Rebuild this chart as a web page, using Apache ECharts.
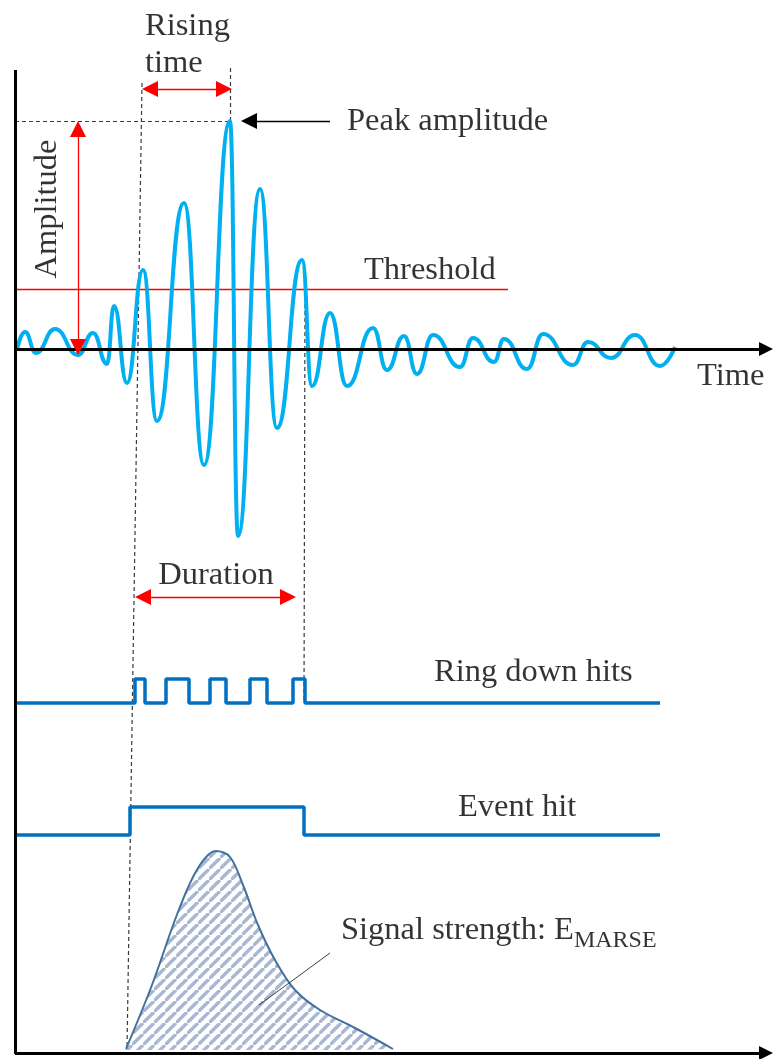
<!DOCTYPE html>
<html><head><meta charset="utf-8">
<script src="https://cdn.jsdelivr.net/npm/echarts@6/dist/echarts.min.js"></script>
<style>html,body{margin:0;padding:0;background:#fff}#c{width:773px;height:1059px}</style>
</head><body><div id="c"></div>
<script>
// ---- data (diagram units: x = time position, y = vertical position, top = 0) ----
const waveform = [
  [17,349],[25,332],[36,353],[55,329],[78,355],[93,333],[107,364],[114,306],[127,383],
  [143,270],[157,421],[184,203],[204,465],[230,121],[238,536],[260,189],[277,428],[302,260],
  [312,386],[330,313],[347,386],[373,328],[387,370],[404,336],[417,374],[433,335],[460,367],
  [473,338],[494,362],[504,339],[527,369],[543,334],[573,365],[588,342],[611,358],[635,335],
  [660,366],[675,347]
];
const ringDownHits = [[15,703],[135,679],[145,703],[166,679],[189,703],[210,679],[226,703],[250,679],[267,703],[293,679],[305,703],[660,703]];
const eventHit = [[15,835],[130,807],[304,835],[660,835]];
const signalStrength = [[126,1049],[152,985],[178,912],[198,868],[216,851],[230,857],[243,885],[258,925],[275,960],[295,990],[320,1010],[355,1028],[393,1049]];
const axisVertical = [[[15,70],[15,1054]]];
const axisArrows = [[[15,349],[766,349]],[[15,1053],[766,1053]]];
const thresholdLine = [[[15,289],[508,289]]];
const dashedGuides = [[[15,121],[230,121]],[[230,68],[230,121]],[[142,83],[127,1050]],[[305,290],[304,703]]];
const redArrows = [[[78,129],[78,347]],[[150,89],[224,89]],[[143,597],[288,597]]];
const peakArrow = [[[330,121],[249,121]]];
const leaderLine = [[[259,1005],[330,953]]];
const labelTexts = ['Rising','time','Peak amplitude','Threshold','Time','Amplitude','Duration','Ring down hits','Event hit','{a|Signal strength: E}{b|MARSE}'];
const labelAnchors = [[145,26],[145,63],[347,121],[364,270],[697,376],[47,209],[216,575],[434,672],[458,807],[341,933]];
const labelAlign = ['left','left','left','left','left','center','center','left','left','left'];
const labelRotate = [0,0,0,0,0,90,0,0,0,0];

const FONT = '"Liberation Serif","Times New Roman",serif';

function hatch(){
  const p = 11, c = document.createElement('canvas');
  c.width = p; c.height = p;
  const g = c.getContext('2d');
  g.fillStyle = '#ffffff'; g.fillRect(0,0,p,p);
  g.strokeStyle = '#A9B8D2'; g.lineWidth = 3.4;
  g.beginPath();
  g.moveTo(-p,p); g.lineTo(0,0);
  g.moveTo(0,p); g.lineTo(p,0);
  g.moveTo(p,2*p); g.lineTo(2*p,p);
  g.stroke();
  return c;
}

const toLines = arr => arr.map(c => ({coords: c}));

const chart = echarts.init(document.getElementById('c'), null, {renderer:'canvas'});
chart.setOption({
  animation:false,
  backgroundColor:'#ffffff',
  grid:{left:0,right:0,top:0,bottom:0},
  xAxis:{type:'value',min:0,max:773,show:false},
  yAxis:{type:'value',min:0,max:1059,inverse:true,show:false},
  series:[
    {type:'lines',coordinateSystem:'cartesian2d',silent:true,z:2,
     lineStyle:{color:'#FF0000',width:1.3,opacity:1},itemStyle:{color:'#FF0000'},symbol:'none',data:toLines(thresholdLine)},
    {type:'lines',coordinateSystem:'cartesian2d',silent:true,z:2,
     lineStyle:{color:'#3a3a3a',width:1.2,type:[4,3],opacity:1},itemStyle:{color:'#3a3a3a'},symbol:'none',data:toLines(dashedGuides)},
    {type:'line',data:signalStrength,smooth:0.35,symbol:'none',silent:true,z:3,
     lineStyle:{color:'#41719C',width:2},
     areaStyle:{color:{image:hatch(),repeat:'repeat'},origin:1050,opacity:1}},
    {type:'line',data:waveform,smooth:0.5,smoothMonotone:'x',symbol:'none',silent:true,z:4,
     lineStyle:{color:'#00B0F0',width:4}},
    {type:'line',data:ringDownHits,step:'end',symbol:'none',silent:true,z:4,
     lineStyle:{color:'#0070C0',width:3.5}},
    {type:'line',data:eventHit,step:'end',symbol:'none',silent:true,z:4,
     lineStyle:{color:'#0070C0',width:3.5}},
    {type:'lines',coordinateSystem:'cartesian2d',silent:true,z:6,
     lineStyle:{color:'#000',width:3,opacity:1},itemStyle:{color:'#000'},symbol:'none',data:toLines(axisVertical)},
    {type:'lines',coordinateSystem:'cartesian2d',silent:true,z:6,
     lineStyle:{color:'#000',width:3,opacity:1},itemStyle:{color:'#000'},symbol:['none','triangle'],symbolSize:14,data:toLines(axisArrows)},
    {type:'lines',coordinateSystem:'cartesian2d',silent:true,z:6,
     lineStyle:{color:'#FF0000',width:1.3,opacity:1},itemStyle:{color:'#FF0000'},symbol:['triangle','triangle'],symbolSize:16,data:toLines(redArrows)},
    {type:'lines',coordinateSystem:'cartesian2d',silent:true,z:6,
     lineStyle:{color:'#000',width:1.3,opacity:1},itemStyle:{color:'#000'},symbol:['none','triangle'],symbolSize:16,data:toLines(peakArrow)},
    {type:'lines',coordinateSystem:'cartesian2d',silent:true,z:6,
     lineStyle:{color:'#404040',width:1,opacity:1},itemStyle:{color:'#404040'},symbol:'none',data:toLines(leaderLine)},
    {type:'scatter',silent:true,z:8,symbolSize:1,itemStyle:{color:'transparent'},
     data:labelTexts.map((t,i)=>({value:labelAnchors[i],
       label:{show:true,position:'inside',formatter:t,align:labelAlign[i],verticalAlign:'middle',rotate:labelRotate[i],
         color:'#000',fontFamily:FONT,fontSize:32.5,
         rich:{a:{fontFamily:FONT,fontSize:32.5,color:'#000',verticalAlign:'bottom',padding:[0,0,6,0]},
               b:{fontFamily:FONT,fontSize:24,color:'#000',verticalAlign:'bottom'}}}}))}
  ]
});
</script></body></html>
